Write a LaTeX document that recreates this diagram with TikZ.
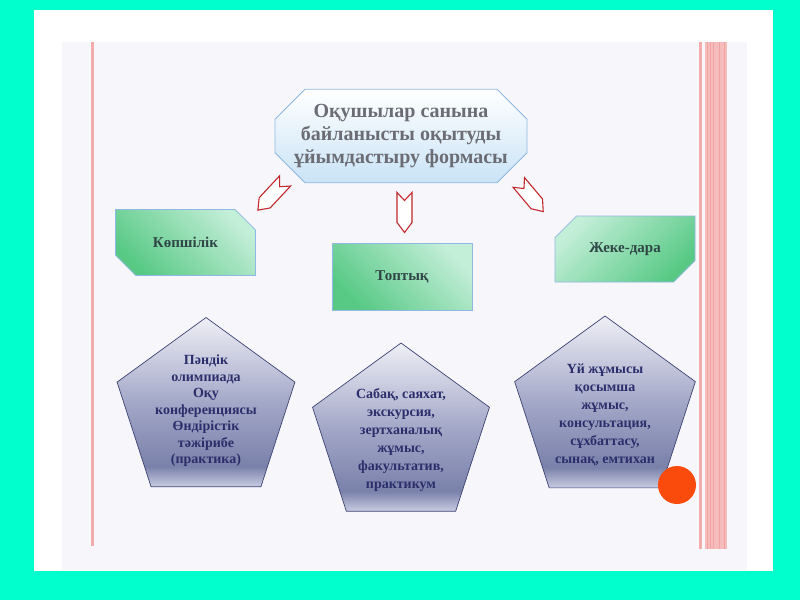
\documentclass[tikz,border=0pt]{standalone}
\usepackage{fontspec}
\setmainfont{Liberation Serif}
\usetikzlibrary{shapes.misc,shapes.geometric}
\definecolor{slidebg}{HTML}{00FFCC}
\definecolor{paper}{HTML}{F7F6FB}
\definecolor{rulered}{HTML}{F4ABAB}
\definecolor{rulelight}{HTML}{F6BCBC}
\definecolor{ruledark}{HTML}{EA7C7C}
\definecolor{dotred}{HTML}{FA4B0C}
\definecolor{titleline}{HTML}{8FB8E2}
\definecolor{titleblue}{HTML}{C9E3F6}
\definecolor{titletext}{HTML}{6C6C74}
\definecolor{greendark}{HTML}{58C985}
\definecolor{greenlight}{HTML}{C3EED8}
\definecolor{greentext}{HTML}{2F4646}
\definecolor{arrowred}{HTML}{C0282C}
\definecolor{pentline}{HTML}{3E4372}
\definecolor{penttext}{HTML}{2B2E6B}
\definecolor{pentlow}{HTML}{C8CCE2}
\definecolor{pentdark}{HTML}{7A81AA}
\definecolor{pentmid}{HTML}{A3A8C8}
\definecolor{penttop}{HTML}{EFEFF6}
\pgfdeclareverticalshading{pentshade}{100bp}{color(0bp)=(pentlow); color(25bp)=(pentlow);
  color(31bp)=(pentdark); color(50bp)=(pentmid); color(75bp)=(penttop); color(100bp)=(penttop)}
\tikzset{
  titlebox/.style={chamfered rectangle, chamfered rectangle xsep=15pt, chamfered rectangle ysep=15pt,
    draw=titleline, line width=0.8pt, top color=white, bottom color=titleblue, inner sep=0pt,
    minimum width=252pt, minimum height=88pt},
  formbox/.style={draw=titleline, line width=0.7pt, top color=greenlight, bottom color=greendark, inner sep=0pt,
    minimum width=140pt, minimum height=66pt, text=greentext, font=\bfseries\fontsize{15}{17}\selectfont},
  snipbox/.style={formbox, chamfered rectangle, chamfered rectangle xsep=15pt, chamfered rectangle ysep=15pt},
  pent/.style={regular polygon, regular polygon sides=5, draw=pentline, line width=0.7pt,
    shading=pentshade, inner sep=0pt},
  penttxt/.style={text=penttext, align=center, font=\bfseries\fontsize{14}{17}\selectfont},
  redarrow/.style={draw=arrowred, line width=1.1pt, line join=miter, fill=white}
}
\begin{document}
\begin{tikzpicture}[x=1pt,y=-1pt]
\useasboundingbox (0,0) rectangle (800,600);
\fill[slidebg] (0,0) rectangle (800,600);
\fill[white] (34,10) rectangle (773,571);
\fill[paper] (62,42) rectangle (747,570);
% red rules
\fill[rulered] (91,42) rectangle (93.5,546);
\fill[rulered] (699,42) rectangle (701.5,549);
\fill[rulelight] (705,42) rectangle (727,549);
\foreach \xr in {707,710,713,719,724}
  \fill[ruledark!70] (\xr,42) rectangle (\xr+1,549);
% title
\node[titlebox, text=titletext, align=center, font=\bfseries\fontsize{20}{23}\selectfont] (form) at (401,136)
  {Оқушылар санына\\байланысты оқытуды\\ұйымдастыру формасы};
% arrows
\draw[redarrow, shift={(271.5,195.5)}, rotate=-43] (-7.5,-20) -- (0,-12) -- (7.5,-20) -- (7.5,10) -- (0,20) -- (-7.5,10) -- cycle;
\draw[redarrow, shift={(404.5,212.5)}] (-7.5,-20) -- (0,-12) -- (7.5,-20) -- (7.5,10) -- (0,20) -- (-7.5,10) -- cycle;
\draw[redarrow, shift={(531,197)}, rotate=40] (-7.5,-19) -- (0,-11) -- (7.5,-19) -- (7.5,9) -- (0,19) -- (-7.5,9) -- cycle;
% three forms
\node[snipbox, chamfered rectangle corners={north east,south west}, shading angle=-45] (mass) at (185.5,242.5) {Көпшілік};
\node[formbox, shading angle=-45, minimum height=67pt] (group) at (402,276.5) {Топтық};
\node[snipbox, chamfered rectangle corners={north west,south east}, shading angle=45] (single) at (625,249) {Жеке-дара};
% pentagons
\node[pent, minimum size=187pt] (massp) at (206,411) {};
\node[penttxt, font=\bfseries\fontsize{14}{16.5}\selectfont] (masst) at (massp.center)
  {Пәндік\\олимпиада\\Оқу\\конференциясы\\Өндірістік\\тәжірибе\\(практика)};
\node[pent, minimum size=186pt] (groupp) at (401,436) {};
\node[penttxt, font=\bfseries\fontsize{14}{18}\selectfont] (groupt) at ([yshift=-4pt]groupp.center)
  {Сабақ, саяхат,\\экскурсия,\\зертханалық\\жұмыс,\\факультатив,\\практикум};
\node[pent, minimum size=190pt] (singlep) at (605,411) {};
\node[penttxt, font=\bfseries\fontsize{14}{18}\selectfont] (singlet) at ([yshift=-4pt]singlep.center)
  {Үй жұмысы\\қосымша\\жұмыс,\\консультация,\\сұхбаттасу,\\сынақ, емтихан};
% dot
\fill[dotred] (677,485) circle (19);
\end{tikzpicture}
\end{document}
